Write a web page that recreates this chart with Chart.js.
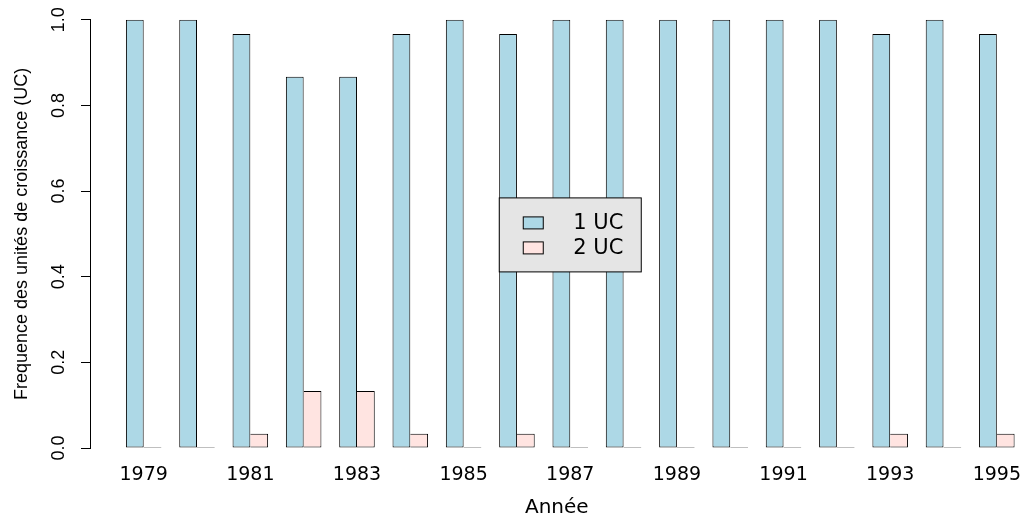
<!DOCTYPE html>
<html lang="fr">
<head>
    <meta charset="UTF-8">
    <title>Fréquence des unités de croissance</title>
    <script src="https://cdn.jsdelivr.net/npm/chart.js"></script>
    <style>
        body {
            margin: 0;
            background: #ffffff;
        }

        .chart-container {
            position: relative;
            width: 1029px;
            height: 516px;
        }
    </style>
</head>
<body>

<div class="chart-container">
    <canvas id="ucChart"></canvas>
</div>

<script>
    // Années observées
    const annees = [1979, 1980, 1981, 1982, 1983, 1984, 1985, 1986, 1987,
                    1988, 1989, 1990, 1991, 1992, 1993, 1994, 1995];
    // Etiquettes visibles sur l'axe X (une année sur deux)
    const anneesAffichees = [1979, 1981, 1983, 1985, 1987, 1989, 1991, 1993, 1995];

    // Fréquences
    const freq1UC = [1, 1, 0.967, 0.867, 0.867, 0.967, 1, 0.967, 1,
                     1, 1, 1, 1, 1, 0.967, 1, 0.967];
    const freq2UC = [0, 0, 0.033, 0.133, 0.133, 0.033, 0, 0.033, 0,
                     0, 0, 0, 0, 0, 0.033, 0, 0.033];

    const yTicks = [0, 0.2, 0.4, 0.6, 0.8, 1.0];

    const couleur1UC = "#ADD8E6";  // lightblue
    const couleur2UC = "#FFE4E1";  // mistyrose

    // Légende centrée dans la zone du graphique (comme legend("center") en R)
    const legendeCentre = {
        id: "legendeCentre",
        afterDatasetsDraw(chart) {
            const ctx = chart.ctx;
            const cx = chart.scales.x.getPixelForValue(annees[Math.floor(annees.length / 2)]);
            const cy = chart.scales.y.getPixelForValue(0.5);
            const w = 142, h = 74;
            const left = cx - w / 2, top = cy - h / 2 + 1;

            ctx.save();
            ctx.fillStyle = "#E5E5E5";
            ctx.fillRect(left, top, w, h);
            ctx.strokeStyle = "#000";
            ctx.lineWidth = 1;
            ctx.strokeRect(left, top, w, h);

            ctx.font = "21px 'DejaVu Sans'";
            ctx.textBaseline = "middle";
            chart.data.datasets.forEach((ds, i) => {
                const sy = top + 19 + i * 25;
                ctx.fillStyle = ds.backgroundColor;
                ctx.fillRect(left + 24, sy, 20, 12);
                ctx.strokeRect(left + 24, sy, 20, 12);
                ctx.fillStyle = "#000";
                ctx.fillText(ds.label, left + 74, sy + 7);
            });
            ctx.restore();
        }
    };

    new Chart(document.getElementById("ucChart"), {
        type: "bar",
        data: {
            datasets: [{
                label: "1 UC",
                data: annees.map((a, i) => ({ x: a, y: freq1UC[i] })),
                backgroundColor: couleur1UC,
                borderColor: "#000",
                borderWidth: 1,
                borderSkipped: false
            }, {
                label: "2 UC",
                data: annees.map((a, i) => ({ x: a, y: freq2UC[i] })),
                backgroundColor: couleur2UC,
                borderColor: "#000",
                borderWidth: { top: 1, right: 1, bottom: 1, left: 0 },
                borderSkipped: false,
                minBarLength: 1
            }]
        },
        options: {
            responsive: true,
            maintainAspectRatio: false,
            animation: false,
            layout: { padding: { top: 19, right: 0, bottom: 0, left: 0 } },
            datasets: {
                bar: { categoryPercentage: 2 / 3, barPercentage: 1 }
            },
            plugins: {
                legend: { display: false },
                tooltip: { enabled: false }
            },
            scales: {
                x: {
                    type: "linear",
                    min: 1977.993,
                    max: 1995.503,
                    offset: false,
                    grid: { display: false },
                    border: { display: false },
                    afterBuildTicks: (scale) => {
                        scale.ticks = anneesAffichees.map(v => ({ value: v }));
                    },
                    afterFit: (scale) => { scale.height = 68; },
                    ticks: {
                        color: "#000",
                        font: { family: "'DejaVu Sans'", size: 19 },
                        padding: 8,
                        maxRotation: 0,
                        autoSkip: false,
                        callback: (v) => String(v)
                    },
                    title: {
                        display: true,
                        text: "Année",
                        color: "#000",
                        font: { family: "'DejaVu Sans'", size: 20, lineHeight: 0.8 },
                        padding: { top: 0, bottom: 0 }
                    }
                },
                y: {
                    min: 0,
                    max: 1,
                    afterBuildTicks: (scale) => {
                        scale.ticks = yTicks.map(v => ({ value: v }));
                    },
                    afterFit: (scale) => { scale.width = 90; },
                    grid: {
                        drawOnChartArea: false,
                        drawTicks: true,
                        tickLength: 9,
                        color: "#000"
                    },
                    border: { display: true, color: "#000", width: 1 },
                    ticks: {
                        color: "#000",
                        font: { family: "'Liberation Sans', Arial", size: 18 },
                        minRotation: 90,
                        maxRotation: 90,
                        crossAlign: "center",
                        padding: 9,
                        callback: (v) => v.toFixed(1)
                    },
                    title: {
                        display: true,
                        text: "Frequence des unités de croissance (UC)",
                        color: "#000",
                        font: { family: "'Liberation Sans', Arial", size: 18 },
                        padding: { top: 11, bottom: 0 }
                    }
                }
            }
        },
        plugins: [legendeCentre]
    });
</script>

</body>
</html>
